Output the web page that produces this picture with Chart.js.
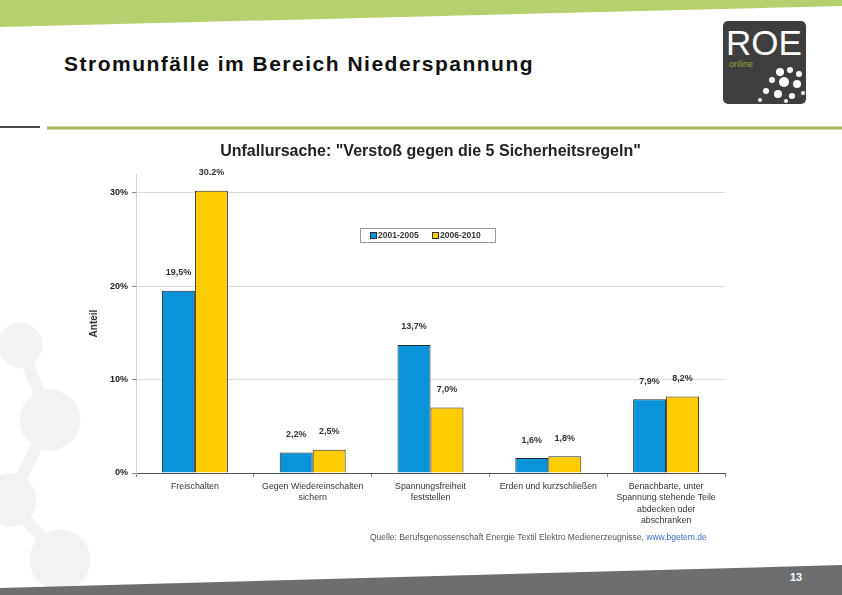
<!DOCTYPE html>
<html lang="de">
<head>
    <meta charset="UTF-8">
    <title>Stromunfälle im Bereich Niederspannung</title>
    <script src="https://cdn.jsdelivr.net/npm/chart.js"></script>
    <style>
        body { margin: 0; width: 842px; height: 595px; position: relative; overflow: hidden; background: #fff; font-family: "Liberation Sans", Arial, sans-serif; }
        #deco { position: absolute; left: 0; top: 0; }
        .slide-title { position: absolute; left: 64px; top: 52px; font-size: 21px; font-weight: bold; letter-spacing: 1.5px; color: #111; }
        .chart-box { position: absolute; left: 80px; top: 135px; width: 660px; height: 420px; }
        .source { position: absolute; left: 370px; top: 532px; font-size: 8.5px; color: #555; white-space: nowrap; }
        .source span { color: #3a6fc4; }
        .page-no { position: absolute; left: 790px; top: 571px; font-size: 11px; color: #fff; font-weight: bold; }
    </style>
</head>
<body>
    <svg id="deco" width="842" height="595">
        <!-- faint background shapes on the left -->
        <g fill="#f3f3f3" stroke="#f3f3f3">
            <circle cx="20" cy="345" r="22"/>
            <circle cx="50" cy="420" r="30"/>
            <circle cx="10" cy="500" r="26"/>
            <circle cx="60" cy="560" r="30"/>
            <line x1="20" y1="345" x2="50" y2="420" stroke-width="12"/>
            <line x1="50" y1="420" x2="10" y2="500" stroke-width="12"/>
            <line x1="10" y1="500" x2="60" y2="560" stroke-width="12"/>
        </g>
        <polygon points="0,0 842,0 842,6 0,27" fill="#b7d06f"/>
        <line x1="0" y1="127" x2="40" y2="127" stroke="#4a4a4a" stroke-width="2"/>
        <line x1="47" y1="128" x2="842" y2="128" stroke="#a9bc5c" stroke-width="3"/>
        <rect x="723" y="21" width="83" height="83" rx="5" fill="#3e3e3e"/>
        <text x="726" y="55" font-family="Liberation Sans, Arial" font-size="35" fill="#fff">ROE</text>
        <text x="729" y="67" font-family="Liberation Sans, Arial" font-size="9" fill="#8fb03a">online</text>
        <g fill="#fff">
            <circle cx="780" cy="72" r="4"/><circle cx="790" cy="70" r="3"/><circle cx="799" cy="74" r="3"/>
            <circle cx="772" cy="80" r="3"/><circle cx="784" cy="82" r="5"/><circle cx="797" cy="84" r="4"/>
            <circle cx="766" cy="91" r="3"/><circle cx="778" cy="94" r="4"/><circle cx="792" cy="96" r="3"/>
            <circle cx="803" cy="93" r="2"/><circle cx="760" cy="100" r="2"/><circle cx="786" cy="101" r="2"/>
        </g>
        <polygon points="0,588 842,565 842,595 0,595" fill="#6d6e70"/>
    </svg>

    <div class="slide-title">Stromunfälle im Bereich Niederspannung</div>
    <div class="chart-box"><canvas id="chart"></canvas></div>
    <div class="source">Quelle: Berufsgenossenschaft Energie Textil Elektro Medienerzeugnisse, <span>www.bgetem.de</span></div>
    <div class="page-no">13</div>

    <script>
        const categories = [
            "Freischalten",
            ["Gegen Wiedereinschalten", "sichern"],
            ["Spannungsfreiheit", "feststellen"],
            "Erden und kurzschließen",
            ["Benachbarte, unter", "Spannung stehende Teile", "abdecken oder", "abschranken"]
        ];
        const seriesNames = ["2001-2005", "2006-2010"];
        const values2001 = [19.5, 2.2, 13.7, 1.6, 7.9];
        const values2006 = [30.2, 2.5, 7.0, 1.8, 8.2];
        const labels2001 = ["19,5%", "2,2%", "13,7%", "1,6%", "7,9%"];
        const labels2006 = ["30.2%", "2,5%", "7,0%", "1,8%", "8,2%"];
        const yTicks = [0, 10, 20, 30];

        // value labels above each bar
        const barLabels = {
            id: 'barLabels',
            afterDatasetsDraw(chart) {
                const ctx = chart.ctx;
                const texts = [labels2001, labels2006];
                ctx.save();
                ctx.font = 'bold 9px "Liberation Sans", Arial, sans-serif';
                ctx.fillStyle = '#333';
                ctx.textAlign = 'center';
                ctx.textBaseline = 'middle';
                chart.data.datasets.forEach((ds, i) => {
                    chart.getDatasetMeta(i).data.forEach((bar, j) => {
                        ctx.fillText(texts[i][j], bar.x, bar.y - 18);
                    });
                });
                ctx.restore();
            }
        };

        // boxed legend inside the plot
        const boxLegend = {
            id: 'boxLegend',
            afterDraw(chart) {
                const ctx = chart.ctx;
                const x = chart.chartArea.left + 224;
                const y = chart.chartArea.top + 54;
                ctx.save();
                ctx.fillStyle = '#fff';
                ctx.fillRect(x, y, 135, 14);
                ctx.strokeStyle = '#999';
                ctx.lineWidth = 1;
                ctx.strokeRect(x + 0.5, y + 0.5, 135, 14);
                ctx.font = 'bold 8.5px "Liberation Sans", Arial, sans-serif';
                ctx.textBaseline = 'middle';
                chart.data.datasets.forEach((ds, i) => {
                    const ix = x + 10 + i * 62;
                    ctx.fillStyle = ds.backgroundColor;
                    ctx.fillRect(ix, y + 4, 6, 6);
                    ctx.strokeStyle = '#333';
                    ctx.strokeRect(ix + 0.5, y + 4.5, 6, 6);
                    ctx.fillStyle = '#333';
                    ctx.fillText(ds.label, ix + 8, y + 7.5);
                });
                ctx.restore();
            }
        };

        const ctx = document.getElementById('chart').getContext('2d');
        const chart = new Chart(ctx, {
            type: 'bar',
            data: {
                labels: categories,
                datasets: [{
                    label: seriesNames[0],
                    data: values2001,
                    backgroundColor: '#0a93d8',
                    borderColor: '#2b2b2b',
                    borderWidth: 1,
                    borderSkipped: 'bottom'
                }, {
                    label: seriesNames[1],
                    data: values2006,
                    backgroundColor: '#ffcc00',
                    borderColor: '#2b2b2b',
                    borderWidth: 1,
                    borderSkipped: 'bottom'
                }]
            },
            options: {
                responsive: true,
                maintainAspectRatio: false,
                animation: false,
                layout: { padding: { left: 0, right: 15, top: 0, bottom: 0 } },
                datasets: { bar: { barPercentage: 1, categoryPercentage: 0.56 } },
                plugins: {
                    legend: { display: false },
                    tooltip: { enabled: false },
                    title: {
                        display: true,
                        fullSize: false,
                        text: 'Unfallursache: "Verstoß gegen die 5 Sicherheitsregeln"',
                        color: '#222',
                        font: { family: '"Liberation Sans", Arial, sans-serif', size: 16, weight: 'bold' },
                        padding: { top: 7, bottom: 12.8 }
                    }
                },
                scales: {
                    x: {
                        grid: { display: true, offset: true, drawOnChartArea: false, drawTicks: true, tickLength: 4, color: '#888' },
                        border: { color: '#555', width: 1 },
                        ticks: {
                            color: '#333',
                            padding: 4,
                            maxRotation: 0,
                            autoSkip: false,
                            font: { family: '"Liberation Sans", Arial, sans-serif', size: 8.8, lineHeight: 1.28 }
                        },
                        afterFit(scale) { scale.height = 82; }
                    },
                    y: {
                        min: 0,
                        max: 32,
                        afterBuildTicks(scale) { scale.ticks = yTicks.map(v => ({ value: v })); },
                        grid: {
                            color: ctx => ctx.tick && ctx.tick.value === 0 ? '#555' : '#dcdcdc',
                            tickColor: '#888',
                            tickLength: 4
                        },
                        border: { color: '#d0d0d0' },
                        ticks: {
                            color: '#222',
                            padding: 4,
                            font: { family: '"Liberation Sans", Arial, sans-serif', size: 9, weight: 'bold' },
                            callback: v => v + '%'
                        },
                        title: {
                            display: true,
                            text: 'Anteil',
                            color: '#333',
                            font: { family: '"Liberation Sans", Arial, sans-serif', size: 10, weight: 'bold' },
                            padding: { top: 8, bottom: 0 }
                        },
                        afterFit(scale) { scale.width = 56; }
                    }
                }
            },
            plugins: [barLabels, boxLegend]
        });
    </script>
</body>
</html>
